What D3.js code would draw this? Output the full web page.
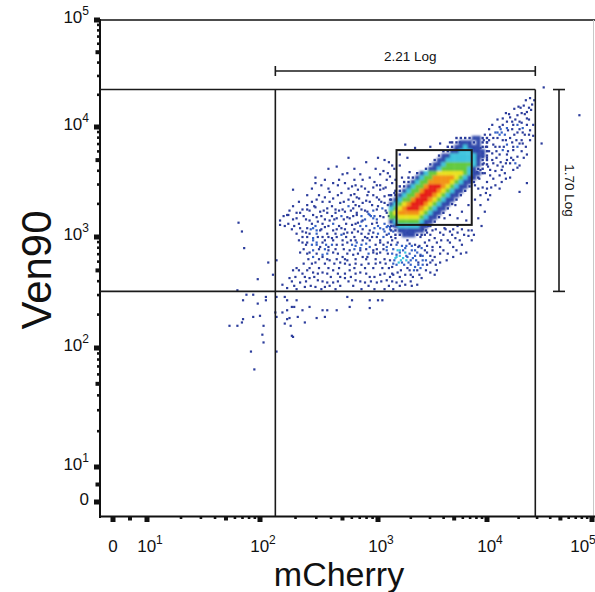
<!DOCTYPE html>
<html>
<head>
<meta charset="utf-8">
<script src="https://cdn.jsdelivr.net/npm/d3@7"></script>
<style>
body { margin: 0; background: #fff; }
text { font-family: "Liberation Sans", Arial, Helvetica, sans-serif; fill: #111; }
</style>
</head>
<body>
<div id="chart"></div>
<script>
// Ven90 vs mCherry, biex-like axes (values below are log10, "0" region linear)
///

// axis ticks
const decades = [0, 1, 2, 3, 4, 5];
const tickBase = ["0", "10", "10", "10", "10", "10"];
const tickExp = ["", "1", "2", "3", "4", "5"];

// gates (log10 units): quadrant cross, outer limits, small gate box
const quadGate = [2.13, 2.51];
const outerGate = [4.46, 4.35];
const boxGate = [[3.17, 3.11], [3.86, 3.79]];
const spanLabels = ["2.21 Log", "1.70 Log"];

// dense core as density levels, cells of 0.04 decade, top row first
const coreX0 = 3.10, coreYTop = 3.92, coreStep = 0.04;
const coreRows = [
	"00000000000000011112211",
	"00000000000000112221211",
	"00000000000001122322211",
	"00000000000011223332221",
	"00000000000122333333221",
	"00000000001223333333211",
	"00000000012234444443211",
	"00000000122344444432110",
	"00000012344555555432210",
	"00001123446666654322100",
	"00011234466666543221000",
	"00112344677765432210000",
	"01123446777654322100000",
	"11234467776543221000000",
	"12344677765432210000000",
	"23456777654322100000000",
	"34567776543221000000000",
	"45666665432210000000000",
	"44555554322100000000000",
	"23444443221000000000000",
	"12333332210000000000000",
	"11222222100000000000000",
	"01122211000000000000000"
];

// single events outside the core [log mCherry, log Ven90]
const events = [
	[1.81,3.13],[1.84,3.05],[1.86,2.90],[2.07,2.77],[1.98,2.62],[2.14,2.79],[2.11,2.66],[1.80,2.52],[1.85,2.43],[1.88,2.48],
	[1.94,2.48],[2.05,2.46],[2.05,2.43],[1.98,2.40],[1.94,2.28],[1.85,2.26],[1.84,2.23],[1.73,2.20],[1.80,2.20],[2.00,2.29],
	[2.03,2.20],[2.02,2.12],[2.03,2.05],[1.92,1.97],[1.95,1.82],[2.14,1.97],[2.13,2.32],[2.14,2.28],[2.14,2.46],[2.21,2.46],
	[2.23,2.43],[2.31,2.43],[2.27,2.37],[2.29,2.37],[2.23,2.34],[2.19,2.32],[2.25,2.27],[2.23,2.26],[2.32,2.28],[2.36,2.34],
	[2.42,2.37],[2.48,2.27],[2.53,2.34],[2.57,2.34],[2.55,2.28],[2.26,2.20],[2.21,2.22],[2.27,2.11],[2.28,2.10],[2.38,2.23],
	[2.65,2.34],
	[2.17,3.11],[2.21,3.10],[2.24,3.20],[2.31,3.17],[2.34,3.22],[2.40,3.25],[2.47,3.27],[2.34,3.08],[2.39,3.04],[2.45,3.08],
	[2.51,3.06],[2.55,3.09],[2.59,3.15],[2.64,3.22],[2.42,3.15],[2.48,3.18],[2.57,3.22],[2.36,2.95],[2.40,2.95],[2.42,2.86],
	[2.45,2.88],[2.34,2.86],[2.48,2.95],[2.53,2.95],[2.58,2.88],[2.53,2.84],[2.47,2.77],[2.59,2.79],[2.62,2.70],[2.53,2.68],
	[2.45,2.68],[2.40,2.70],[2.33,2.70],[2.28,2.70],[2.25,2.63],[2.34,2.59],[2.42,2.63],[2.49,2.61],[2.57,2.59],[2.62,2.59],
	[2.38,2.55],[2.47,2.55],[2.55,2.55],[2.19,2.57],[2.23,2.54],
	[2.65,3.64],[2.74,3.58],[2.47,3.54],[2.47,3.49],[2.28,3.43],[2.62,3.49],[2.72,3.49],[2.78,3.46],[2.87,3.52],[2.93,3.54],
	[3.05,3.60],[3.09,3.58],[3.11,3.55],[2.96,3.45],[3.02,3.43],[2.83,3.43],[2.69,3.40],[2.59,3.41],[2.55,3.36],[2.48,3.34],
	[2.40,3.29],[2.36,3.25],[2.31,3.22],[2.23,3.20],[2.17,3.15],[2.62,3.35],[2.68,3.31],[2.75,3.34],[2.82,3.36],[2.91,3.38],
	[2.99,3.36],[3.06,3.31],[2.87,3.31],[2.79,3.26],[2.72,3.23],[2.64,3.25],[2.57,3.26],[2.51,3.23],[2.45,3.20],[2.49,3.14],
	[2.65,3.17],[2.74,3.18],[2.82,3.20],[2.91,3.23],[2.99,3.25],[3.08,3.22],[2.96,3.17],[2.86,3.14],[2.78,3.11],[2.69,3.08],
	[2.62,3.06],[2.48,3.06],[2.40,3.08],[2.36,3.05],[2.36,3.00],[2.45,2.99],[2.53,3.00],[2.61,2.99],[2.69,3.02],[2.78,3.04],
	[2.83,3.05],[2.93,3.06],[3.02,3.08],[3.08,3.09],[2.99,3.00],[2.91,2.99],[2.82,2.95],[2.74,2.95],[2.65,2.93],[2.58,2.91],
	[2.51,2.91],[2.44,2.93],[2.76,2.88],[2.85,2.90],[2.93,2.91],[3.02,2.95],[3.08,2.88],[2.96,2.86],[2.87,2.82],[2.79,2.84],
	[2.70,2.82],[2.62,2.86],[2.53,2.82],[2.45,2.82],[2.68,2.77],[2.76,2.75],[2.86,2.75],[3.02,2.77],[3.11,2.79],[3.17,2.82],
	[3.20,2.88],
	[2.70,3.25],[2.76,3.17],[2.82,3.22],[2.87,3.15],[2.93,3.20],[2.99,3.13],[3.05,3.18],[3.11,3.09],[2.74,3.04],[2.81,2.97],
	[2.89,3.00],[2.96,3.04],[3.02,2.97],[3.08,3.02],[3.14,3.05],[3.20,3.06],[3.27,3.04],[3.32,3.05],[3.39,3.00],[3.45,3.04],
	[3.50,3.06],[3.57,3.04],[3.66,3.05],[3.73,3.04],[3.83,3.06],[3.43,2.95],[3.37,2.91],[3.31,2.88],[3.25,2.90],[3.20,2.86],
	[3.27,2.82],[3.32,2.81],[3.39,2.84],[3.45,2.86],[3.52,2.82],[3.57,2.77],[3.48,2.77],[3.41,2.75],[3.34,2.73],[3.28,2.77],
	[3.22,2.77],[3.16,2.81],[3.13,2.73],[3.18,2.68],[3.25,2.66],[3.32,2.64],[3.40,2.63],[3.48,2.68],[3.54,2.70],[3.63,2.79],
	[3.69,2.82],[3.60,2.88],[3.66,2.95],[3.54,2.95],[3.27,2.97],[3.18,2.95],[3.08,2.91],[3.02,2.86],[2.96,2.88],[2.91,2.82],
	[2.85,2.88],[2.74,2.79],[2.76,2.70],[2.85,2.68],[2.93,2.64],[3.02,2.66],[3.08,2.61],[3.17,2.59],[3.25,2.57],[3.36,2.57],
	[2.99,2.59],[2.89,2.59],[2.81,2.61],[2.72,2.63],[2.74,2.46],[2.78,2.43],[2.93,2.43],[3.00,2.43],[3.04,2.43],[2.76,2.37],
	[2.93,2.36],
	[3.17,2.93],[3.22,2.92],[3.29,2.94],[3.34,2.93],[3.40,2.90],[3.25,2.86],[3.29,2.85],[3.36,2.86],[3.41,2.83],[3.17,2.84],
	[3.23,2.81],[3.30,2.79],[3.37,2.77],[3.44,2.79],[3.19,2.77],[3.27,2.72],[3.33,2.70],[3.39,2.72],
	[4.15,4.08],[4.22,4.09],[4.29,4.11],[4.33,4.13],[4.19,4.05],[4.25,4.02],[4.31,4.05],[4.12,4.00],[4.08,3.95],[4.14,3.95],
	[4.20,3.97],[4.29,3.95],[4.34,3.99],[4.41,4.27],[4.43,4.21],[4.42,4.16],[4.38,4.08],[4.36,3.93],[4.22,3.90],[4.15,3.88],
	[4.10,3.90],[4.03,3.93],[4.00,3.86],[4.06,3.84],[4.12,3.82],[4.19,3.84],[4.25,3.79],[4.31,3.85],[4.38,3.75],[4.19,3.75],
	[4.12,3.75],[4.05,3.76],[3.96,3.73],[4.22,3.67],[4.29,3.63],[4.15,3.64],[4.10,3.65],[4.12,3.56],[4.22,3.54],[4.03,3.56],
	[4.00,3.50],[4.08,3.47],[3.96,3.45],[3.94,3.38],[4.03,3.38],[4.38,3.49],[4.31,3.41],[3.91,3.59],[3.89,3.47],
	[4.38,4.14],[4.24,4.05],[4.33,4.04],[4.19,3.99],[4.10,3.95],[4.06,3.90],[4.34,3.95],[4.41,3.97],[3.94,3.81],[3.87,3.79],
	[3.84,3.85],[3.75,3.86],[3.66,3.86],[3.96,3.76],[4.15,3.79],[4.25,3.82],[4.34,3.85],[4.29,3.73],[4.19,3.70],[4.31,3.65],
	[4.44,4.02],[4.44,3.92],[4.45,4.25],[4.18,4.13],[4.26,4.17],[4.35,4.20],[4.37,4.25],[4.30,4.19],[4.24,3.86],[4.17,3.93],
	[4.28,3.88],[4.05,3.70],[4.13,3.68],[4.25,3.70],[4.08,3.60],[4.17,3.58],[4.01,3.64],[3.98,3.58],[4.04,3.45],[4.14,3.50],
	[3.99,3.40],
	[4.54,4.37],[4.88,4.11],[4.52,3.85],
	[3.25,3.84],[3.34,3.81],[3.48,3.82],[3.57,3.85],[3.13,3.65],[3.06,3.70],[3.20,3.75],
	[2.80,3.39],[2.86,3.46],[2.92,3.41],[2.97,3.50],[3.02,3.47],[3.07,3.45],[3.13,3.49],[2.84,3.35],[2.90,3.33],[2.95,3.29],
	[3.01,3.34],[3.06,3.37],[3.11,3.34],[3.15,3.40],[2.81,3.29],[2.86,3.25],[2.92,3.21],[2.97,3.19],[3.04,3.26],[3.09,3.29],
	[3.14,3.25],[2.83,3.13],[2.90,3.10],[2.97,3.08],[3.06,3.05],[3.12,3.14],[3.16,3.18],[3.16,2.99],[3.09,2.95],[2.98,2.93],
	[2.90,2.94],[2.81,2.92],
	[3.61,3.08],[3.71,2.99],[3.77,2.93],[3.83,3.01],[3.73,3.10],[3.64,2.97],[3.52,2.99],[3.46,3.10],[3.81,2.86],[3.72,2.88],
	[3.89,3.34],[3.94,3.29],[3.98,3.23],[3.92,3.17],[3.86,3.06],[3.95,3.10],[4.01,3.34],
	[3.71,3.29],[3.77,3.23],[3.83,3.29],[3.66,3.20],[3.73,3.17],[3.81,3.15],[3.61,3.17],[3.20,3.65],[3.27,3.72],[3.29,3.59],
	[3.22,3.54],
	// second pass over the main cloud
	[2.52,3.47],[2.66,3.47],[2.81,3.47],[2.99,3.47],[2.44,3.44],[2.58,3.44],[2.75,3.44],[2.89,3.44],[3.05,3.44],
	[2.40,3.38],[2.50,3.38],[2.66,3.38],[2.77,3.38],[2.96,3.38],[3.10,3.38],
	[2.33,3.32],[2.44,3.32],[2.53,3.32],[2.59,3.32],[2.71,3.32],[2.79,3.32],[2.93,3.32],[3.03,3.32],[3.16,3.32],
	[2.28,3.28],[2.46,3.28],[2.61,3.28],[2.75,3.28],[2.84,3.28],[3.00,3.28],[3.12,3.28],
	[2.25,3.24],[2.42,3.24],[2.54,3.24],[2.67,3.24],[2.77,3.24],[2.89,3.24],[2.96,3.24],[3.07,3.24],
	[2.20,3.19],[2.37,3.19],[2.52,3.19],[2.61,3.19],[2.69,3.19],[2.79,3.19],[2.86,3.19],[2.94,3.19],[3.02,3.19],[3.10,3.19],
	[2.28,3.16],[2.39,3.16],[2.55,3.16],[2.63,3.16],[2.71,3.16],[2.89,3.16],[2.99,3.16],[3.14,3.16],
	[2.24,3.12],[2.33,3.12],[2.44,3.12],[2.53,3.12],[2.62,3.12],[2.73,3.12],[2.81,3.12],[2.95,3.12],[3.06,3.12],
	[2.29,3.10],[2.47,3.10],[2.58,3.10],[2.67,3.10],[2.85,3.10],[3.00,3.10],[3.09,3.10],[3.14,3.10],
	[2.27,3.07],[2.43,3.07],[2.52,3.07],[2.65,3.07],[2.72,3.07],[2.80,3.07],[2.87,3.07],[3.05,3.07],[3.11,3.07],
	[2.31,3.03],[2.42,3.03],[2.48,3.03],[2.57,3.03],[2.64,3.03],[2.71,3.03],[2.86,3.03],[2.92,3.03],[3.00,3.03],[3.10,3.03],
	[2.40,3.00],[2.49,3.00],[2.58,3.00],[2.65,3.00],[2.73,3.00],[2.80,3.00],[2.95,3.00],[3.05,3.00],[3.12,3.00],
	[2.33,2.97],[2.45,2.97],[2.55,2.97],[2.62,2.97],[2.70,2.97],[2.77,2.97],[2.87,2.97],[2.93,2.97],[3.13,2.97],
	[2.39,2.93],[2.48,2.93],[2.56,2.93],[2.61,2.93],[2.70,2.93],[2.78,2.93],[2.86,2.93],[3.05,2.93],[3.12,2.93],
	[2.37,2.89],[2.50,2.89],[2.55,2.89],[2.64,2.89],[2.71,2.89],[2.80,2.89],[2.90,2.89],[2.99,2.89],[3.05,2.89],[3.14,2.89],
	[2.40,2.85],[2.48,2.85],[2.57,2.85],[2.66,2.85],[2.74,2.85],[2.83,2.85],[2.92,2.85],[2.99,2.85],[3.09,2.85],[3.13,2.85],
	[2.41,2.80],[2.50,2.80],[2.57,2.80],[2.65,2.80],[2.72,2.80],[2.81,2.80],[2.90,2.80],[2.98,2.80],[3.06,2.80],
	[2.37,2.76],[2.44,2.76],[2.55,2.76],[2.63,2.76],[2.72,2.76],[2.81,2.76],[2.92,2.76],[2.98,2.76],[3.07,2.76],[3.14,2.76],
	[2.31,2.72],[2.42,2.72],[2.50,2.72],[2.58,2.72],[2.67,2.72],[2.80,2.72],[2.89,2.72],[2.96,2.72],[3.04,2.72],[3.10,2.72],
	[2.36,2.67],[2.49,2.67],[2.57,2.67],[2.66,2.67],[2.72,2.67],[2.81,2.67],[2.90,2.67],[3.06,2.67],[3.13,2.67],
	[2.30,2.64],[2.38,2.64],[2.46,2.64],[2.60,2.64],[2.68,2.64],[2.77,2.64],[2.97,2.64],[3.11,2.64],[3.20,2.64],
	[2.27,2.60],[2.39,2.60],[2.53,2.60],[2.66,2.60],[2.75,2.60],[2.85,2.60],[2.94,2.60],[3.03,2.60],[3.13,2.60],[3.22,2.60],[3.30,2.60],
	[2.29,2.56],[2.43,2.56],[2.59,2.56],[2.68,2.56],[2.79,2.56],[2.92,2.56],[3.10,2.56],[3.20,2.56],[3.31,2.56],
	[2.31,2.53],[2.52,2.53],[2.64,2.53],[2.86,2.53],[2.97,2.53],[3.06,2.53],[3.14,2.53],
	// sub-cluster under the gate
	[3.26,2.92],[3.31,2.92],[3.38,2.92],[3.45,2.92],[3.18,2.88],[3.23,2.88],[3.34,2.88],[3.43,2.88],[3.50,2.88],
	[3.20,2.83],[3.26,2.83],[3.34,2.83],[3.39,2.83],[3.48,2.83],[3.15,2.79],[3.21,2.79],[3.26,2.79],[3.35,2.79],[3.41,2.79],[3.50,2.79],
	[3.17,2.75],[3.24,2.75],[3.30,2.75],[3.37,2.75],[3.45,2.75],[3.53,2.75],[3.21,2.70],[3.29,2.70],[3.36,2.70],[3.44,2.70],
	[3.14,2.66],[3.30,2.66],[3.38,2.66],[3.52,2.66],
	[3.41,3.07],[3.53,3.07],[3.62,3.07],[3.69,3.07],[3.77,3.07],[3.43,3.02],[3.48,3.02],[3.60,3.02],[3.68,3.02],[3.79,3.02],[3.88,3.02],
	[3.47,2.97],[3.58,2.97],[3.75,2.97],[3.86,2.97],[3.50,2.91],[3.57,2.91],[3.69,2.91],[3.57,2.85],[3.64,2.85],[3.76,2.85],
	// above the main cloud
	[2.58,3.62],[2.80,3.62],[2.98,3.62],[3.15,3.62],[2.70,3.57],[2.85,3.57],[3.02,3.57],[2.55,3.52],[2.67,3.52],[2.80,3.52],
	[3.08,3.52],[3.16,3.52],[2.90,3.68],[3.10,3.68],[2.75,3.72],[3.00,3.72],
	// upper right tail
	[4.32,4.18],[4.40,4.18],[4.21,4.12],[4.36,4.12],[4.10,4.07],[4.27,4.07],[4.40,4.07],[4.05,4.02],[4.15,4.02],[4.29,4.02],
	[4.38,4.02],[4.02,3.98],[4.13,3.98],[4.24,3.98],[4.31,3.98],[3.98,3.93],[4.12,3.93],[4.26,3.93],[4.40,3.93],[3.97,3.88],
	[4.02,3.88],[4.18,3.88],[4.33,3.88],[4.41,3.88],[3.99,3.82],[4.08,3.82],[4.16,3.82],[4.29,3.82],[4.37,3.82],[3.91,3.78],
	[4.02,3.78],[4.09,3.78],[4.20,3.78],[4.33,3.78],[4.00,3.72],[4.09,3.72],[4.23,3.72],[4.35,3.72],[3.97,3.67],[4.06,3.67],
	[4.18,3.67],[4.27,3.67],[3.94,3.61],[4.03,3.61],[4.14,3.61],[4.25,3.61],[3.93,3.53],[4.06,3.53],[4.18,3.53],[3.92,3.44],
	[4.00,3.44],[4.12,3.44]
];

// pseudocolor levels
const palette = ["#fff", "#2c3d9c", "#2f47aa", "#3cc3dd", "#62c93c", "#e9e21e", "#f39212", "#e61c14"];

const W = 595, H = 592;

let svg = d3.select("#chart").append("svg")
	.attr("width", W)
	.attr("height", H);

svg.append("defs").append("filter").attr("id", "soft")
	.attr("x", "-10%").attr("y", "-10%").attr("width", "120%").attr("height", "120%")
	.append("feGaussianBlur").attr("stdDeviation", 0.8);

// piecewise scales, positions
const x = d3.scaleLinear().domain([-0.38, 0, 1, 2, 3, 4, 5]).range([100, 113, 147, 260, 378, 487, 592]);
const y = d3.scaleLinear().domain([-0.4, 0, 1, 2, 3, 4, 5]).range([516, 502, 467, 348, 237, 127, 20]);

// scatter events, lighter where crowded
let pts = events.map(function(d){ return [x(d[0]), y(d[1])] });
svg.append("g").selectAll("rect")
	.data(pts)
	.enter()
	.append("rect")
	.attr("x", function(d){ return d[0] - 1.1 })
	.attr("y", function(d){ return d[1] - 1.1 })
	.attr("width", 2.2)
	.attr("height", 2.2)
	.attr("fill", function(d){
		let n = 0;
		pts.forEach(function(p){ if ( Math.hypot(p[0]-d[0], p[1]-d[1]) < 7 ) n++ });
		if ( n > 10 ) return palette[3];
		return n > 7 ? "#3562c6" : palette[1];
	});

// core density cells
let cells = [];
coreRows.forEach(function(row, j){
	row.split("").forEach(function(c, i){
		let lv = +c;
		if ( lv > 0 )
			cells.push({ x0: coreX0 + i*coreStep, y0: coreYTop - (j+1)*coreStep, lv: lv });
	});
});
// sparse cells as single dots
svg.append("g").selectAll("rect")
	.data(cells.filter(function(d){ return d.lv == 1 }))
	.enter()
	.append("rect")
	.attr("x", function(d){ return (x(d.x0) + x(d.x0 + coreStep))/2 - 1.2 })
	.attr("y", function(d){ return (y(d.y0) + y(d.y0 + coreStep))/2 - 1.2 })
	.attr("width", 2.4)
	.attr("height", 2.4)
	.attr("fill", palette[1]);
// filled cells, softened a little
svg.append("g").attr("filter", "url(#soft)").selectAll("rect")
	.data(cells.filter(function(d){ return d.lv > 1 }))
	.enter()
	.append("rect")
	.attr("x", function(d){ return x(d.x0) })
	.attr("y", function(d){ return y(d.y0 + coreStep) })
	.attr("width", function(d){ return x(d.x0 + coreStep) - x(d.x0) + 0.3 })
	.attr("height", function(d){ return y(d.y0) - y(d.y0 + coreStep) + 0.3 })
	.attr("fill", function(d){ return palette[d.lv] });

// frame
svg.append("line").attr("x1", 100).attr("x2", W).attr("y1", 20).attr("y2", 20).attr("stroke", "#111").attr("stroke-width", 1.5);
svg.append("line").attr("x1", 593.5).attr("x2", 593.5).attr("y1", 20).attr("y2", 516).attr("stroke", "#c8c8c8").attr("stroke-width", 1);
svg.append("line").attr("x1", 100).attr("x2", 100).attr("y1", 19).attr("y2", 518).attr("stroke", "#111").attr("stroke-width", 2);
svg.append("line").attr("x1", 99).attr("x2", W).attr("y1", 516.5).attr("y2", 516.5).attr("stroke", "#111").attr("stroke-width", 2);

// gates
let g = svg.append("g").attr("stroke", "#1a1a1a").attr("fill", "none");
g.append("line").attr("x1", x(-0.38)).attr("x2", x(outerGate[0])).attr("y1", y(outerGate[1])).attr("y2", y(outerGate[1])).attr("stroke-width", 1.6);
g.append("line").attr("x1", x(outerGate[0])).attr("x2", x(outerGate[0])).attr("y1", y(outerGate[1])).attr("y2", y(-0.4)).attr("stroke-width", 1.6);
g.append("line").attr("x1", x(quadGate[0])).attr("x2", x(quadGate[0])).attr("y1", y(outerGate[1])).attr("y2", y(-0.4)).attr("stroke-width", 1.6);
g.append("line").attr("x1", x(-0.38)).attr("x2", x(outerGate[0])).attr("y1", y(quadGate[1])).attr("y2", y(quadGate[1])).attr("stroke-width", 1.6);
g.append("rect")
	.attr("x", x(boxGate[0][0])).attr("y", y(boxGate[1][1]))
	.attr("width", x(boxGate[1][0]) - x(boxGate[0][0]))
	.attr("height", y(boxGate[0][1]) - y(boxGate[1][1]))
	.attr("stroke-width", 2);

// span annotations
let hy = 71, vx = 559;
g.append("line").attr("x1", x(quadGate[0])).attr("x2", x(outerGate[0])).attr("y1", hy).attr("y2", hy).attr("stroke-width", 1.6);
[quadGate[0], outerGate[0]].forEach(function(v){
	g.append("line").attr("x1", x(v)).attr("x2", x(v)).attr("y1", hy-5).attr("y2", hy+5).attr("stroke-width", 1.6);
});
svg.append("text").attr("x", (x(quadGate[0]) + x(outerGate[0]))/2 + 5).attr("y", 61)
	.attr("text-anchor", "middle").attr("font-size", 13.5).text(spanLabels[0]);
g.append("line").attr("x1", vx).attr("x2", vx).attr("y1", y(outerGate[1])).attr("y2", y(quadGate[1])).attr("stroke-width", 1.6);
[quadGate[1], outerGate[1]].forEach(function(v){
	g.append("line").attr("x1", vx-6).attr("x2", vx+6).attr("y1", y(v)).attr("y2", y(v)).attr("stroke-width", 1.6);
});
let vy = (y(outerGate[1]) + y(quadGate[1]))/2;
svg.append("text").attr("transform", "translate(" + (vx+6) + "," + vy + ") rotate(90)")
	.attr("text-anchor", "middle").attr("font-size", 13.5).text(spanLabels[1]);

// ticks: decades, 2..9 minor, 5 in the linear part
let minor = [0.5];
[1, 2, 3, 4].forEach(function(k){
	for ( let m = 2; m <= 9; m++ ) minor.push(k + Math.log10(m));
});
let tk = svg.append("g").attr("fill", "#111");
function tickSize(v) {
	if ( decades.indexOf(v) >= 0 ) return [6, 5];
	let f = v - Math.floor(v);
	if ( Math.abs(f - Math.log10(5)) < 1e-6 || v == 0.5 ) return [4.5, 4];
	return [3, 2.6];
}
decades.concat(minor).forEach(function(v){
	let s = tickSize(v);
	tk.append("rect").attr("x", 100 - s[0]).attr("y", y(v) - s[1]/2).attr("width", s[0]).attr("height", s[1]);
	tk.append("rect").attr("x", x(v) - s[1]/2).attr("y", 516).attr("width", s[1]).attr("height", s[0]);
});

// tick labels
decades.forEach(function(v, i){
	let ty = svg.append("text").attr("x", 89).attr("y", y(v) + 3).attr("text-anchor", "end").attr("font-size", 17);
	ty.append("tspan").text(tickBase[i]);
	if ( tickExp[i] ) ty.append("tspan").attr("font-size", 12).attr("dy", -8).text(tickExp[i]);

	let lx = tickExp[i] ? Math.min(x(v) + 3, 583) : x(v);
	let tx = svg.append("text").attr("x", lx).attr("y", 552).attr("text-anchor", "middle").attr("font-size", 17);
	tx.append("tspan").text(tickBase[i]);
	if ( tickExp[i] ) tx.append("tspan").attr("font-size", 12).attr("dy", -8).text(tickExp[i]);
});

// axis titles
svg.append("text").attr("x", 339).attr("y", 586).attr("text-anchor", "middle").attr("font-size", 34).text("mCherry");
svg.append("text").attr("transform", "translate(51,270) rotate(-90)").attr("text-anchor", "middle").attr("font-size", 42).text("Ven90");
</script>
</body>
</html>
